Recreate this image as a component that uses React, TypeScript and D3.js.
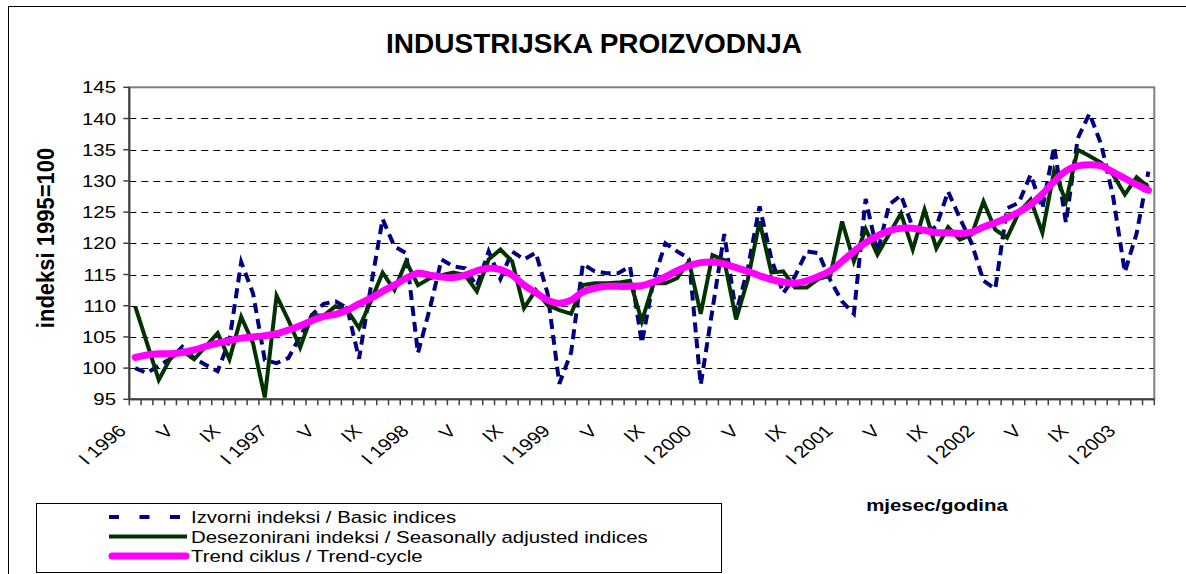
import React from 'react'
import * as d3 from 'd3'

// Jan 1996 .. Mar 2003, monthly
const years = ['1996', '1997', '1998', '1999', '2000', '2001', '2002', '2003']
const monthNames = ['I', 'II', 'III', 'IV', 'V', 'VI', 'VII', 'VIII', 'IX', 'X', 'XI', 'XII']
const categories = years.flatMap((yr) => monthNames.map((m) => `${m} ${yr}`)).slice(0, 87)

const xTickLabels = [
  'I 1996', 'V', 'IX', 'I 1997', 'V', 'IX', 'I 1998', 'V', 'IX', 'I 1999', 'V', 'IX',
  'I 2000', 'V', 'IX', 'I 2001', 'V', 'IX', 'I 2002', 'V', 'IX', 'I 2003',
]
const yTicks = [95, 100, 105, 110, 115, 120, 125, 130, 135, 140, 145]

// Izvorni indeksi / Basic indices
const basic = [
  100.0, 99.2, 100.4, 101.5, 103.4, 101.6, 100.5, 99.5, 104.5, 117.0, 112.0, 101.3,
  100.8, 101.6, 105.1, 108.5, 110.3, 110.7, 109.6, 101.5, 113.0, 123.9, 119.5, 118.4,
  102.4, 109.5, 117.4, 116.3, 116.0, 113.1, 118.7, 114.3, 118.7, 117.4, 118.5, 112.0,
  97.5, 102.5, 116.7, 115.5, 115.2, 115.2, 116.3, 104.0, 114.1, 120.0, 118.7, 117.6,
  97.3, 109.4, 121.5, 108.8, 116.0, 125.9, 117.5, 112.0, 114.7, 118.7, 118.4, 114.1,
  110.7, 108.7, 127.1, 118.5, 126.2, 127.7, 122.5, 121.5, 122.7, 128.3, 124.0, 120.0,
  114.0, 112.7, 125.6, 126.5, 131.0, 125.6, 135.5, 123.3, 136.8, 140.8, 135.8, 127.5,
  115.4, 121.6, 131.5,
]

// Desezonirani indeksi / Seasonally adjusted indices
const adjusted = [
  109.9, 104.0, 98.1, 101.6, 102.8, 101.4, 103.5, 105.6, 101.4, 108.2, 104.0, 95.3,
  111.6, 107.7, 103.3, 108.5, 108.4, 109.9, 109.3, 106.4, 110.7, 115.3, 112.5, 117.1,
  113.3, 114.4, 114.9, 115.3, 114.9, 112.3, 117.4, 119.0, 117.1, 109.6, 112.5, 110.1,
  109.3, 108.7, 113.3, 113.6, 113.6, 113.7, 114.0, 107.5, 113.6, 113.6, 114.4, 117.1,
  108.7, 118.1, 117.3, 107.8, 114.2, 123.5, 115.3, 115.5, 112.9, 112.9, 114.3, 114.8,
  123.5, 117.1, 122.3, 118.2, 121.5, 124.8, 119.0, 125.4, 119.2, 122.6, 120.6, 121.4,
  126.7, 122.2, 120.9, 124.9, 127.0, 121.7, 131.6, 126.7, 135.0, 134.0, 132.9, 131.0,
  127.8, 130.6, 129.0,
]

// Trend ciklus / Trend-cycle
const trend = [
  101.7, 102.1, 102.3, 102.3, 102.5, 102.9, 103.5, 104.0, 104.4, 104.8, 105.0, 105.2,
  105.5, 106.1, 106.8, 107.6, 108.3, 108.6, 109.3, 110.3, 111.2, 112.3, 113.3, 114.4,
  115.2, 114.9, 114.6, 114.5, 114.9, 115.6, 116.0, 115.8, 114.9, 113.3, 112.1, 110.9,
  110.4, 110.9, 112.2, 112.8, 113.1, 113.1, 113.1, 113.2, 113.8, 114.6, 115.6, 116.4,
  116.9, 117.0, 116.7, 116.1, 115.5, 114.8, 114.2, 113.8, 113.6, 114.0, 114.7, 115.6,
  117.1, 118.7, 120.1, 121.2, 122.0, 122.4, 122.4, 122.1, 121.7, 121.7, 121.6, 121.8,
  122.6, 123.3, 124.1, 125.0, 126.2, 127.9, 129.9, 131.6, 132.4, 132.6, 132.4, 131.4,
  130.4, 129.4, 128.5,
]

const font = '"Liberation Sans", Arial, sans-serif'

export default function App() {
  const width = 1186
  const height = 574
  const left = 129.3
  const right = 1154.3
  const top = 87.3
  const bottom = 399.3

  const x = d3.scaleBand<number>().domain(d3.range(categories.length)).range([left, right])
  const cx = (i: number) => (x(i) as number) + x.bandwidth() / 2
  const y = d3.scaleLinear().domain([95, 145]).range([bottom, top])

  const line = d3
    .line<number>()
    .x((_, i) => cx(i))
    .y((d) => y(d))
  const smooth = d3
    .line<number>()
    .x((_, i) => cx(i))
    .y((d) => y(d))
    .curve(d3.curveCatmullRom.alpha(0.5))

  const legendRows = [
    {label: 'Izvorni indeksi / Basic indices', y: 517},
    {label: 'Desezonirani indeksi / Seasonally adjusted indices', y: 536.5},
    {label: 'Trend ciklus / Trend-cycle', y: 556},
  ]

  return (
    <svg
      width={width}
      height={height}
      style={{position: 'absolute', left: 0, top: 0, background: '#fff'}}
      fontFamily={font}
    >
      <rect x={0} y={0} width={width} height={height} fill="#fff" />
      <rect x={8.5} y={6.5} width={1300} height={700} fill="none" stroke="#000" strokeWidth={1} />

      <text x={594} y={53} textAnchor="middle" fontSize={28} fontWeight="bold">
        INDUSTRIJSKA PROIZVODNJA
      </text>

      {/* grid */}
      {yTicks
        .filter((t) => t > 95 && t < 145)
        .map((t) => (
          <line
            key={'g' + t}
            x1={left}
            x2={right}
            y1={Math.round(y(t)) + 0.5}
            y2={Math.round(y(t)) + 0.5}
            stroke="#000"
            strokeWidth={1}
            strokeDasharray="7,5"
          />
        ))}

      <rect x={left} y={top} width={right - left} height={bottom - top} fill="none" stroke="#808080" strokeWidth={2} />

      {/* series */}
      <path d={line(basic) || ''} fill="none" stroke="#000080" strokeWidth={4} strokeDasharray="10,6" />
      <path d={line(adjusted) || ''} fill="none" stroke="#003300" strokeWidth={4} strokeLinejoin="miter" />
      <path d={smooth(trend) || ''} fill="none" stroke="#ff00ff" strokeWidth={7} strokeLinecap="round" strokeLinejoin="round" />

      {/* axes */}
      <line x1={left} x2={left} y1={top} y2={bottom} stroke="#404040" strokeWidth={2} />
      <line x1={left} x2={right} y1={bottom} y2={bottom} stroke="#404040" strokeWidth={2} />
      {yTicks.map((t) => (
        <g key={'y' + t}>
          <line x1={left - 6} x2={left} y1={y(t)} y2={y(t)} stroke="#404040" strokeWidth={1.5} />
          <text
            transform={`translate(116,${y(t) + 6}) scale(1.2,1)`}
            textAnchor="end"
            fontSize={17}
          >
            {t}
          </text>
        </g>
      ))}
      {d3.range(categories.length + 1).map((i) => {
        const xx = left + i * x.bandwidth()
        return <line key={'xt' + i} x1={xx} x2={xx} y1={bottom} y2={bottom + 6} stroke="#404040" strokeWidth={1.5} />
      })}
      {xTickLabels.map((lab, k) => (
        <text
          key={'xl' + k}
          transform={`translate(${cx(k * 4) - 8},${432}) scale(1.2,1) rotate(-45)`}
          textAnchor="end"
          fontSize={17}
        >
          {lab}
        </text>
      ))}

      <text transform="translate(54,238) scale(1.1,1) rotate(-90)" textAnchor="middle" fontSize={22} fontWeight="bold">
        indeksi 1995=100
      </text>
      <text transform="translate(937,511) scale(1.2,1)" textAnchor="middle" fontSize={17} fontWeight="bold">
        mjesec/godina
      </text>

      {/* legend */}
      <rect x={36.5} y={503.5} width={685} height={69} fill="none" stroke="#000" strokeWidth={1} />
      <line x1={109} x2={190} y1={legendRows[0].y} y2={legendRows[0].y} stroke="#000080" strokeWidth={4} strokeDasharray="10,20.5" />
      <line x1={109} x2={187} y1={legendRows[1].y} y2={legendRows[1].y} stroke="#003300" strokeWidth={4} />
      <line x1={112} x2={186} y1={legendRows[2].y} y2={legendRows[2].y} stroke="#ff00ff" strokeWidth={7} strokeLinecap="round" />
      {legendRows.map((r) => (
        <text key={r.label} transform={`translate(191,${r.y + 6}) scale(1.2,1)`} fontSize={17}>
          {r.label}
        </text>
      ))}
    </svg>
  )
}
